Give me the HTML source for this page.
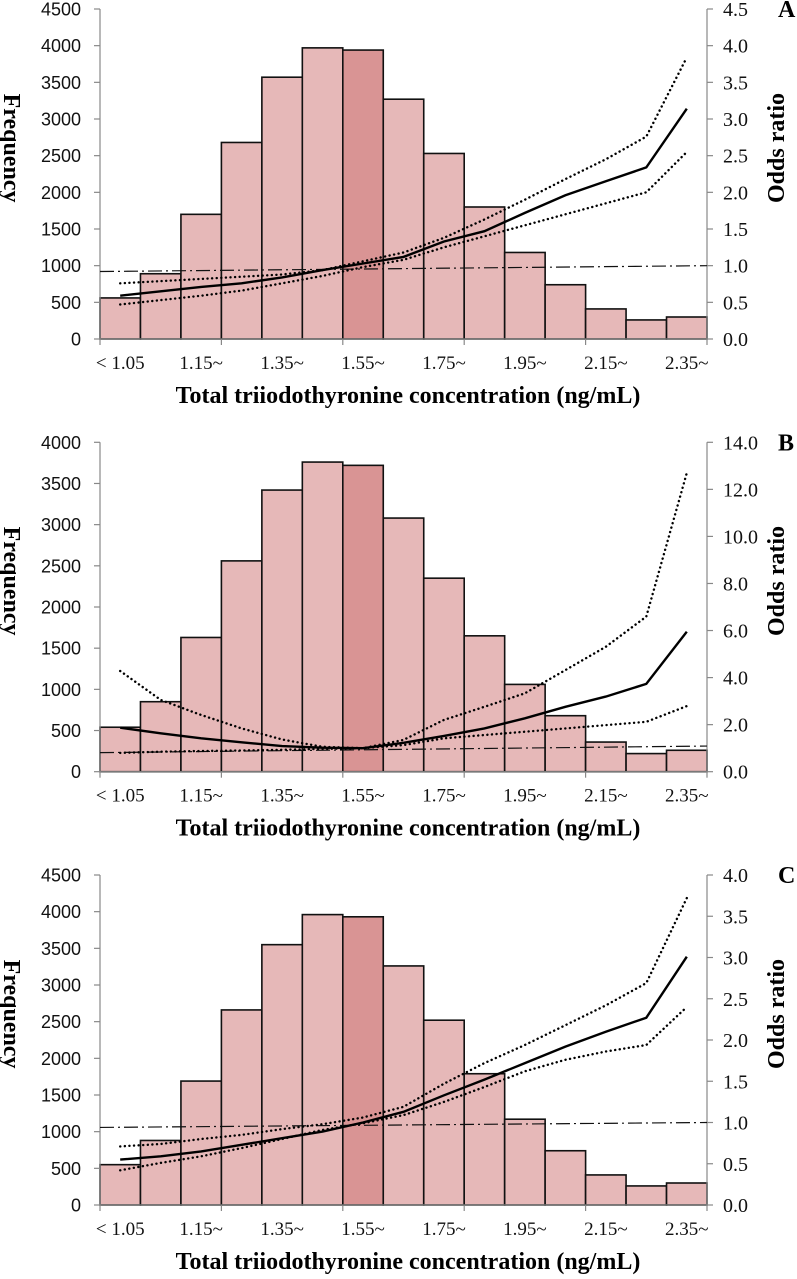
<!DOCTYPE html>
<html><head><meta charset="utf-8">
<style>
html,body{margin:0;padding:0;background:#fff;}
svg{display:block;}
.lt{font-family:"Liberation Sans",sans-serif;font-size:18px;fill:#111;}
.rt{font-family:"Liberation Serif",serif;font-size:20px;fill:#111;}
.xt{font-family:"Liberation Serif",serif;font-size:19px;fill:#111;}
.ti{font-family:"Liberation Serif",serif;font-size:24px;font-weight:bold;fill:#000;}
</style></head>
<body>
<svg id="chart" width="797" height="1279" viewBox="0 0 797 1279"></svg>
<script>
const categories = ["< 1.05","1.05~","1.15~","1.25~","1.35~","1.45~","1.55~","1.65~","1.75~","1.85~","1.95~","2.05~","2.15~","2.25~","2.35~"];
const tickLabelsX = ["< 1.05","1.15~","1.35~","1.55~","1.75~","1.95~","2.15~","2.35~"];
const freqA = [560,890,1700,2680,3570,3970,3940,3270,2530,1800,1180,740,410,260,300];
const orA = [0.59,0.65,0.71,0.76,0.84,0.94,1.03,1.12,1.33,1.47,1.72,1.96,2.15,2.34,3.14];
const upA = [0.76,0.79,0.82,0.85,0.88,0.94,1.06,1.18,1.38,1.63,1.90,2.18,2.45,2.76,3.84];
const loA = [0.47,0.53,0.59,0.66,0.76,0.86,0.98,1.08,1.25,1.40,1.55,1.70,1.85,2.00,2.55];
const refA = [0.92,1.0];
const freqB = [540,850,1630,2560,3420,3760,3720,3080,2350,1650,1060,680,360,220,260];
const orB = [1.87,1.63,1.42,1.25,1.09,1.02,1.0,1.23,1.52,1.84,2.27,2.76,3.19,3.73,5.95];
const upB = [4.28,3.05,2.41,1.84,1.37,1.06,1.0,1.35,2.2,2.76,3.33,4.32,5.31,6.59,12.7];
const loB = [0.8,0.85,0.88,0.9,0.93,0.97,1.0,1.13,1.42,1.56,1.70,1.84,1.98,2.12,2.79];
const refB = [0.81,1.09];
const freqC = [550,880,1690,2660,3550,3960,3930,3260,2520,1790,1170,740,410,260,300];
const orC = [0.55,0.59,0.65,0.73,0.81,0.89,1.0,1.13,1.33,1.52,1.72,1.92,2.10,2.27,3.01];
const upC = [0.71,0.74,0.80,0.85,0.92,0.98,1.06,1.19,1.47,1.72,1.94,2.18,2.42,2.69,3.72];
const loC = [0.42,0.51,0.59,0.69,0.80,0.91,0.99,1.09,1.25,1.43,1.62,1.76,1.86,1.94,2.40];
const refC = [0.94,1.0];
const leftTicksA = [0,500,1000,1500,2000,2500,3000,3500,4000,4500];
const rightTicksA = ["0.0","0.5","1.0","1.5","2.0","2.5","3.0","3.5","4.0","4.5"];
const leftTicksB = [0,500,1000,1500,2000,2500,3000,3500,4000];
const rightTicksB = ["0.0","2.0","4.0","6.0","8.0","10.0","12.0","14.0"];
const leftTicksC = [0,500,1000,1500,2000,2500,3000,3500,4000,4500];
const rightTicksC = ["0.0","0.5","1.0","1.5","2.0","2.5","3.0","3.5","4.0"];

const NS = "http://www.w3.org/2000/svg";
const svg = document.getElementById('chart');
function mk(tag, attrs, parent){
  const e = document.createElementNS(NS, tag);
  for (const k in attrs) e.setAttribute(k, attrs[k]);
  (parent||svg).appendChild(e);
  return e;
}
const X0 = 100, X1 = 707;

function panel(id, top, bottom, letter, freq, fmax, ticksL, ticksR, rmax, orv, up, lo, ref){
  const g = mk('g', {});
  
  
  const bw = (X1 - X0) / categories.length;
  const yL = v => bottom - v / fmax * (bottom - top);
  const yR = v => bottom - v / rmax * (bottom - top);
  const xc = i => X0 + (i + 0.5) * bw;
  freq.forEach((v, i) => {
    const r = mk('rect', {x: X0 + i*bw, y: yL(v), width: bw, height: bottom - yL(v),
      fill: i === 6 ? '#d99494' : '#e6b8b8', stroke: '#111', 'stroke-width': 1.6}, g);
    
    
  });
  const al = mk('line', {x1: X0, y1: top, x2: X0, y2: bottom, stroke: '#888', 'stroke-width': 1.2}, g);
  
  
  const ar = mk('line', {x1: X1, y1: top, x2: X1, y2: bottom, stroke: '#888', 'stroke-width': 1.2}, g);
  
  
  const ab = mk('line', {x1: X0, y1: bottom, x2: X1, y2: bottom, stroke: '#888', 'stroke-width': 1.2}, g);
  
  
  ticksL.forEach(v => {
    mk('line', {x1: X0-6, y1: yL(v), x2: X0, y2: yL(v), stroke: '#888', 'stroke-width': 1.2}, g);
    const t = mk('text', {x: X0-19, y: yL(v)+6.5, 'text-anchor': 'end', class: 'lt'}, g);
    t.textContent = v;
    
    
  });
  ticksR.forEach(s => {
    const v = parseFloat(s);
    mk('line', {x1: X1, y1: yR(v), x2: X1+6, y2: yR(v), stroke: '#888', 'stroke-width': 1.2}, g);
    const t = mk('text', {x: X1+16, y: yR(v)+7, class: 'rt'}, g);
    t.textContent = s;
    
    
  });
  for (let i = 0; i <= categories.length; i += 3) {
    mk('line', {x1: X0 + i*bw, y1: bottom, x2: X0 + i*bw, y2: bottom+6, stroke: '#888', 'stroke-width': 1.2}, g);
  }
  tickLabelsX.forEach(s => {
    const i = categories.indexOf(s);
    const t = mk('text', {x: xc(i), y: bottom + 30, 'text-anchor': 'middle', class: 'xt'}, g);
    t.textContent = s;
    
    
  });
  const rl = mk('line', {x1: X0, y1: yR(ref[0]), x2: X1, y2: yR(ref[1]), stroke: '#111', 'stroke-width': 1.2, 'stroke-dasharray': '14 4 2 4'}, g);
  
  
  function line(arr, name, dash, w){
    const d = arr.map((v, i) => (i ? 'L' : 'M') + xc(i).toFixed(1) + ' ' + yR(v).toFixed(1)).join(' ');
    const p = mk('path', {d: d, fill: 'none', stroke: '#000', 'stroke-width': w}, g);
    if (dash) { p.setAttribute('stroke-dasharray', dash); p.setAttribute('stroke-linecap', 'round'); }
    
    
  }
  line(up, 'upper-ci-' + id, '0.1 4.5', 2.4);
  line(lo, 'lower-ci-' + id, '0.1 4.5', 2.4);
  line(orv, 'odds-ratio-' + id, null, 2.4);
  const xt = mk('text', {x: 408, y: bottom + 64, 'text-anchor': 'middle', class: 'ti'}, g);
  xt.textContent = 'Total triiodothyronine concentration (ng/mL)';
  
  
  const my = (top + bottom) / 2 - 26;
  const ft = mk('text', {x: 0, y: 0, 'text-anchor': 'middle', class: 'ti', transform: 'translate(4,' + my + ') rotate(90)'}, g);
  ft.textContent = 'Frequency';
  
  
  const ot = mk('text', {x: 0, y: 0, 'text-anchor': 'middle', class: 'ti', transform: 'translate(784,' + my + ') rotate(-90)'}, g);
  ot.textContent = 'Odds ratio';
  
  
  const pl = mk('text', {x: 778, y: top + 8, class: 'ti', 'font-size': '20'}, g);
  pl.textContent = letter;
  
  
}
panel('a', 9, 339, 'A', freqA, 4500, leftTicksA, rightTicksA, 4.5, orA, upA, loA, refA);
panel('b', 442.3, 771.7, 'B', freqB, 4000, leftTicksB, rightTicksB, 14, orB, upB, loB, refB);
panel('c', 875, 1205, 'C', freqC, 4500, leftTicksC, rightTicksC, 4.0, orC, upC, loC, refC);
</script>
</body></html>
